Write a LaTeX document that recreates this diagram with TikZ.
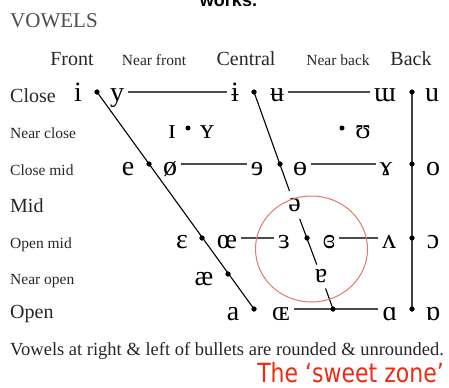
\documentclass[tikz,border=0pt]{standalone}
\usepackage{fontspec}
\setmainfont{Liberation Serif}
\newfontfamily\ipafont{Liberation Serif}
\newfontfamily\sweetfont{DejaVu Sans}
\newfontfamily\boldsans{Liberation Sans}
\usetikzlibrary{calc}
\definecolor{zonered}{RGB}{226,120,104}
\definecolor{sweetred}{RGB}{238,42,22}
\begin{document}
\begin{tikzpicture}[x=1bp,y=-1bp,
  ipa/.style={font=\ipafont\fontsize{28bp}{30bp}\selectfont, anchor=base, inner xsep=4bp, inner ysep=1bp, text=black},
  bighead/.style={font=\fontsize{20bp}{22bp}\selectfont, anchor=base, inner sep=0pt, text=black!85},
  smallhead/.style={font=\fontsize{15.5bp}{17bp}\selectfont, anchor=base, inner sep=0pt, text=black!85},
  bigrow/.style={font=\fontsize{20bp}{22bp}\selectfont, anchor=base west, inner sep=0pt, text=black!85},
  smallrow/.style={font=\fontsize{15.5bp}{17bp}\selectfont, anchor=base west, inner sep=0pt, text=black!85},
  bullet/.style={circle, fill=black, inner sep=0pt, minimum size=5bp},
  hline/.style={line width=1.4bp, black!70},
  dline/.style={line width=1.1bp, black},
  vline/.style={line width=1.6bp, black!75},
]
\useasboundingbox (0,0) rectangle (449,387);

% title and headings
\node[font=\boldsans\bfseries\fontsize{18bp}{20bp}\selectfont, anchor=base, inner sep=0pt] (works) at (228.5,6) {works.};
\node[font=\fontsize{21bp}{23bp}\selectfont, anchor=base west, inner sep=0pt, text=black!70] (title) at (10,27) {VOWELS};
\node[bighead] (hfront) at (72,65) {Front};
\node[smallhead] (hnfront) at (154,65) {Near front};
\node[bighead] (hcentral) at (246,65) {Central};
\node[smallhead] (hnback) at (338,65) {Near back};
\node[bighead] (hback) at (411,65) {Back};

% row labels
\node[bigrow] (rclose) at (10,102) {Close};
\node[smallrow] (rnclose) at (10,138) {Near close};
\node[smallrow] (rcmid) at (10,175) {Close mid};
\node[bigrow] (rmid) at (10,212) {Mid};
\node[smallrow] (romid) at (10,248) {Open mid};
\node[smallrow] (rnopen) at (10,284) {Near open};
\node[bigrow] (ropen) at (10,318) {Open};

% bullets
\node[bullet] (fb1) at (97,92) {};
\node[bullet] (cb1) at (254,92) {};
\node[bullet] (bb1) at (412,92) {};
\node[bullet] (nb2a) at (188,128) {};
\node[bullet] (nb2b) at (342,128) {};
\node[bullet] (fb3) at (149,164) {};
\node[bullet] (cb3) at (280,164) {};
\node[bullet] (bb3) at (412,164) {};
\node[bullet] (fb4) at (202,238) {};
\node[bullet] (cb4) at (307,238) {};
\node[bullet] (bb4) at (412,238) {};
\node[bullet] (fb5) at (228,274) {};
\node[bullet] (fb6) at (254,309) {};
\node[bullet] (cb6) at (333,309) {};
\node[bullet] (bb6) at (412,309) {};

% close
\node[ipa] (i) at (78,101) {i};
\node[ipa] (y) at (117,101) {y};
\node[ipa] (ibar) at (235,101) {ɨ};
\node[ipa] (ubar) at (277,101) {ʉ};
\node[ipa] (mturn) at (385,101) {ɯ};
\node[ipa] (u) at (432,101) {u};
% near close
\node[ipa] (smi) at (172,138) {ɪ};
\node[ipa] (smy) at (207,138) {ʏ};
\node[ipa] (hsu) at (363,138) {ʊ};
% close mid
\node[ipa] (e) at (128,175) {e};
\node[ipa] (oslash) at (170,175) {ø};
\node[ipa] (revE) at (257,175) {ɘ};
\node[ipa] (obar) at (300,175) {ɵ};
\node[ipa] (ramshorn) at (386,175) {ɤ};
\node[ipa] (o) at (433,175) {o};
% mid
\node[ipa, anchor=center, inner ysep=7bp] (schwa) at (294.5,205) {ə};
% open mid
\node[ipa] (epsilon) at (182,248) {ɛ};
\node[ipa] (oe) at (227,248) {œ};
\node[ipa] (revepsilon) at (284,248) {ɜ};
\node[ipa] (closedrev) at (329,248) {ɞ};
\node[ipa] (turnv) at (389,248) {ʌ};
\node[ipa] (openo) at (433,248) {ɔ};
% near open
\node[ipa] (ae) at (204,285) {æ};
\node[ipa, anchor=center, inner ysep=5bp] (turna) at (321.2,276.5) {ɐ};
% open
\node[ipa] (a) at (233,320) {a};
\node[ipa] (smoe) at (281,320) {ɶ};
\node[ipa] (alpha) at (390,320) {ɑ};
\node[ipa] (turnalpha) at (433,320) {ɒ};

% horizontal connectors
\draw[hline] (y.east |- fb1) -- (ibar.west |- fb1);
\draw[hline] (ubar.east |- cb1) -- (mturn.west |- cb1);
\draw[hline] (oslash.east |- fb3) -- (revE.west |- fb3);
\draw[hline] (obar.east |- cb3) -- (ramshorn.west |- cb3);
\draw[hline] (oe.east |- fb4) -- (revepsilon.west |- fb4);
\draw[hline] (closedrev.east |- cb4) -- (turnv.west |- cb4);
\draw[hline] (smoe.east |- cb6) -- (alpha.west |- cb6);

% slanted and vertical connectors
\draw[dline] (fb1.center) -- (fb6.center);
\draw[dline] (cb1.center) -- (schwa);
\draw[dline] (schwa) -- (turna);
\draw[dline] (turna) -- (cb6.center);
\draw[vline] (bb1.center) -- (bb6.center);

% redraw bullets on top
\foreach \b in {fb1,cb1,bb1,fb3,cb3,bb3,fb4,cb4,bb4,fb5,fb6,cb6,bb6}
  \fill (\b) circle (2.5bp);

% sweet zone
\draw[zonered, line width=1bp] (311.5,249) ellipse [x radius=56, y radius=53];

\node[font=\fontsize{18.5bp}{20bp}\selectfont, anchor=base west, inner sep=0pt, text=black!85] (note) at (10,355) {Vowels at right \& left of bullets are rounded \& unrounded.};
\node[anchor=base east, inner sep=0pt, text=sweetred] (sweet) at (444,382) {\scalebox{1}[1.2]{\sweetfont\fontsize{22bp}{24bp}\selectfont The ‘sweet zone’}};
\end{tikzpicture}
\end{document}
